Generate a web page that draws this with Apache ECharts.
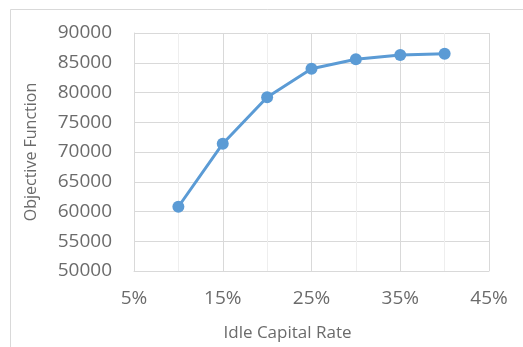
<!DOCTYPE html>
<html>
<head>
<meta charset="utf-8">
<style>
  html, body { margin: 0; padding: 0; background: #ffffff; }
  #chart { width: 523px; height: 347px; }
</style>
<script src="https://cdn.jsdelivr.net/npm/echarts@6/dist/echarts.min.js"></script>
</head>
<body>
<div id="chart"></div>
<script>
// Idle capital rate (%) against objective function value
const idleRate = [10, 15, 20, 25, 30, 35, 40];
const objectiveValue = [60800, 71400, 79200, 84000, 85600, 86300, 86500];

const textColor = '#6b6b6b';
const fontFamily = 'Open Sans, sans-serif';

const chart = echarts.init(document.getElementById('chart'), null, { renderer: 'canvas' });

chart.setOption({
  animation: false,
  backgroundColor: '#ffffff',
  // Chart area frame
  graphic: [{
    type: 'rect',
    shape: { x: 10.5, y: 9.5, width: 600, height: 400 },
    style: { fill: 'none', stroke: '#d9d9d9', lineWidth: 1 },
    silent: true,
    z: -1
  }],
  grid: { left: 134, right: 34, top: 33, bottom: 75 },
  xAxis: {
    type: 'value',
    min: 5,
    max: 45,
    interval: 10,
    name: 'Idle Capital Rate',
    nameLocation: 'middle',
    nameGap: 54,
    nameTextStyle: {
      color: textColor, fontSize: 17, fontFamily: fontFamily,
      padding: [0, 48, 0, 0]
    },
    axisLine: { show: true, lineStyle: { color: '#d9d9d9' } },
    axisTick: { show: false },
    axisLabel: {
      color: textColor, fontSize: 19, fontFamily: fontFamily, margin: 18,
      formatter: '{value}%'
    },
    splitLine: { show: true, lineStyle: { color: '#d9d9d9', width: 1 } },
    minorTick: { show: false, splitNumber: 2 },
    minorSplitLine: { show: true, lineStyle: { color: '#eeeeee', width: 1 } }
  },
  yAxis: {
    type: 'value',
    min: 50000,
    max: 90000,
    interval: 5000,
    name: 'Objective Function',
    nameLocation: 'middle',
    nameGap: 95,
    nameTextStyle: { color: textColor, fontSize: 16, fontFamily: fontFamily },
    axisLine: { show: true, lineStyle: { color: '#d9d9d9' } },
    axisTick: { show: false },
    axisLabel: {
      color: textColor, fontSize: 19, fontFamily: fontFamily, margin: 22,
      formatter: (v) => String(v)
    },
    splitLine: { show: true, lineStyle: { color: '#d9d9d9', width: 1 } }
  },
  series: [{
    type: 'line',
    data: idleRate.map((x, i) => [x, objectiveValue[i]]),
    symbol: 'circle',
    symbolSize: 12,
    lineStyle: { color: '#5b9bd5', width: 3 },
    itemStyle: { color: '#5b9bd5' }
  }]
});
</script>
</body>
</html>
